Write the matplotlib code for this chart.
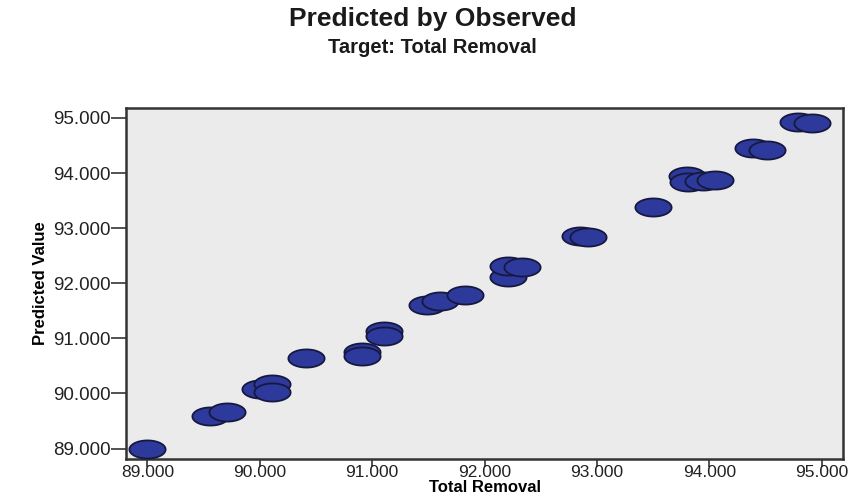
import numpy as np
import matplotlib
matplotlib.use("Agg")
import matplotlib.pyplot as plt
from matplotlib.path import Path
from matplotlib import font_manager

# observed vs predicted total removal
observed = [89.00, 89.56, 89.71, 90.00, 90.11, 90.11, 90.41, 90.91, 90.91,
            91.11, 91.11, 91.49, 91.60, 91.83, 92.21, 92.21, 92.33, 92.85,
            92.92, 93.50, 93.80, 93.81, 93.94, 94.05, 94.39, 94.51, 94.79,
            94.91]
predicted = [89.00, 89.59, 89.67, 90.08, 90.17, 90.03, 90.64, 90.75, 90.68,
             91.14, 91.05, 91.61, 91.68, 91.79, 92.12, 92.32, 92.30, 92.86,
             92.84, 93.38, 93.94, 93.83, 93.85, 93.88, 94.46, 94.42, 94.93,
             94.91]
ticks = [89, 90, 91, 92, 93, 94, 95]
tick_labels = ["89.000", "90.000", "91.000", "92.000", "93.000", "94.000", "95.000"]

names = {f.name for f in font_manager.fontManager.ttflist}
base = "Liberation Sans" if "Liberation Sans" in names else "DejaVu Sans"
narrow = "Liberation Sans Narrow" if "Liberation Sans Narrow" in names else base
plt.rcParams["font.family"] = [base, "DejaVu Sans"]

# flattened circle for the point markers
t = np.linspace(0, 2 * np.pi, 60)
ellipse = Path(np.column_stack([np.cos(t), 0.5 * np.sin(t)]), closed=True)

fig = plt.figure(figsize=(8.58, 4.97), dpi=100)
ax = fig.add_axes([0.1469, 0.0765, 0.8356, 0.7062])
ax.set_facecolor("#ebebeb")

ax.scatter(observed, predicted, s=680, marker=ellipse, facecolor="#2d3a9c",
           edgecolor="#16183f", linewidth=1.3, zorder=3)

ax.set_xlim(88.81, 95.19)
ax.set_ylim(88.81, 95.18)
ax.set_xticks(ticks)
ax.set_xticklabels(tick_labels)
ax.set_yticks(ticks)
ax.set_yticklabels(tick_labels)
ax.tick_params(axis="y", length=11, width=1.2, color="#333333", pad=0,
               labelsize=13.5, labelcolor="#222222")
ax.tick_params(axis="x", length=6, width=1.2, color="#333333", pad=-2,
               labelsize=12.5, labelcolor="#222222")
for sp in ax.spines.values():
    sp.set_linewidth(1.8)
    sp.set_color("#333333")

ax.set_xlabel("Total Removal", fontsize=12, fontweight="bold", labelpad=0)
ax.set_ylabel("Predicted Value", fontsize=12, fontweight="bold",
              family=[narrow, "DejaVu Sans"], labelpad=4)

fig.text(0.504, 0.962, "Predicted by Observed", ha="center", va="center",
         fontsize=19, fontweight="bold", color="#1a1a1a")
fig.text(0.504, 0.905, "Target: Total Removal", ha="center", va="center",
         fontsize=14.5, fontweight="bold", color="#1a1a1a")

fig.savefig("out.png", dpi=100, facecolor="white")
